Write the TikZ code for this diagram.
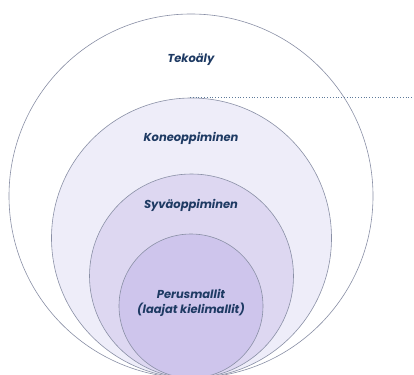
\documentclass[tikz,border=0pt]{standalone}
\usepackage{fontspec}
\setmainfont{Poppins}
\definecolor{ringline}{HTML}{8A90A6}
\definecolor{fillA}{HTML}{FFFFFF}
\definecolor{fillB}{HTML}{EEEDF9}
\definecolor{fillC}{HTML}{DDD7F1}
\definecolor{fillD}{HTML}{CEC5EC}
\definecolor{labelcol}{HTML}{1E3A63}
\definecolor{dotcol}{HTML}{5E7A9A}
\begin{document}
\begin{tikzpicture}[x=1pt,y=-1pt,
  ring/.style={draw=ringline,line width=0.6pt},
  lab/.style={text=labelcol,font=\fontsize{11.5}{15.5}\selectfont\bfseries\itshape,align=center,inner sep=0pt}]
\useasboundingbox (0,0) rectangle (414,374);
\clip (0,0) rectangle (414,374);
\fill[white] (0,0) rectangle (414,374);
\draw[ring,fill=fillA] (191,196) circle[radius=182pt];
\draw[ring,fill=fillB] (191.5,238) circle[radius=140pt];
\draw[ring,fill=fillC] (191.5,276) circle[radius=102pt];
\draw[ring,fill=fillD] (191,306) circle[radius=72pt];
\coordinate (dotstart) at (190,97);
\coordinate (dotend) at (414,97);
\draw[dotcol,dotted,line width=0.8pt] (dotstart) -- (dotend);
\node[lab] (tekoaly) at (191,60) {Tekoäly};
\node[lab] (kone) at (191,138) {Koneoppiminen};
\node[lab] (syva) at (191,205) {Syväoppiminen};
\node[lab] (perus) at (191,303) {Perusmallit\\(laajat kielimallit)};
\end{tikzpicture}
\end{document}
